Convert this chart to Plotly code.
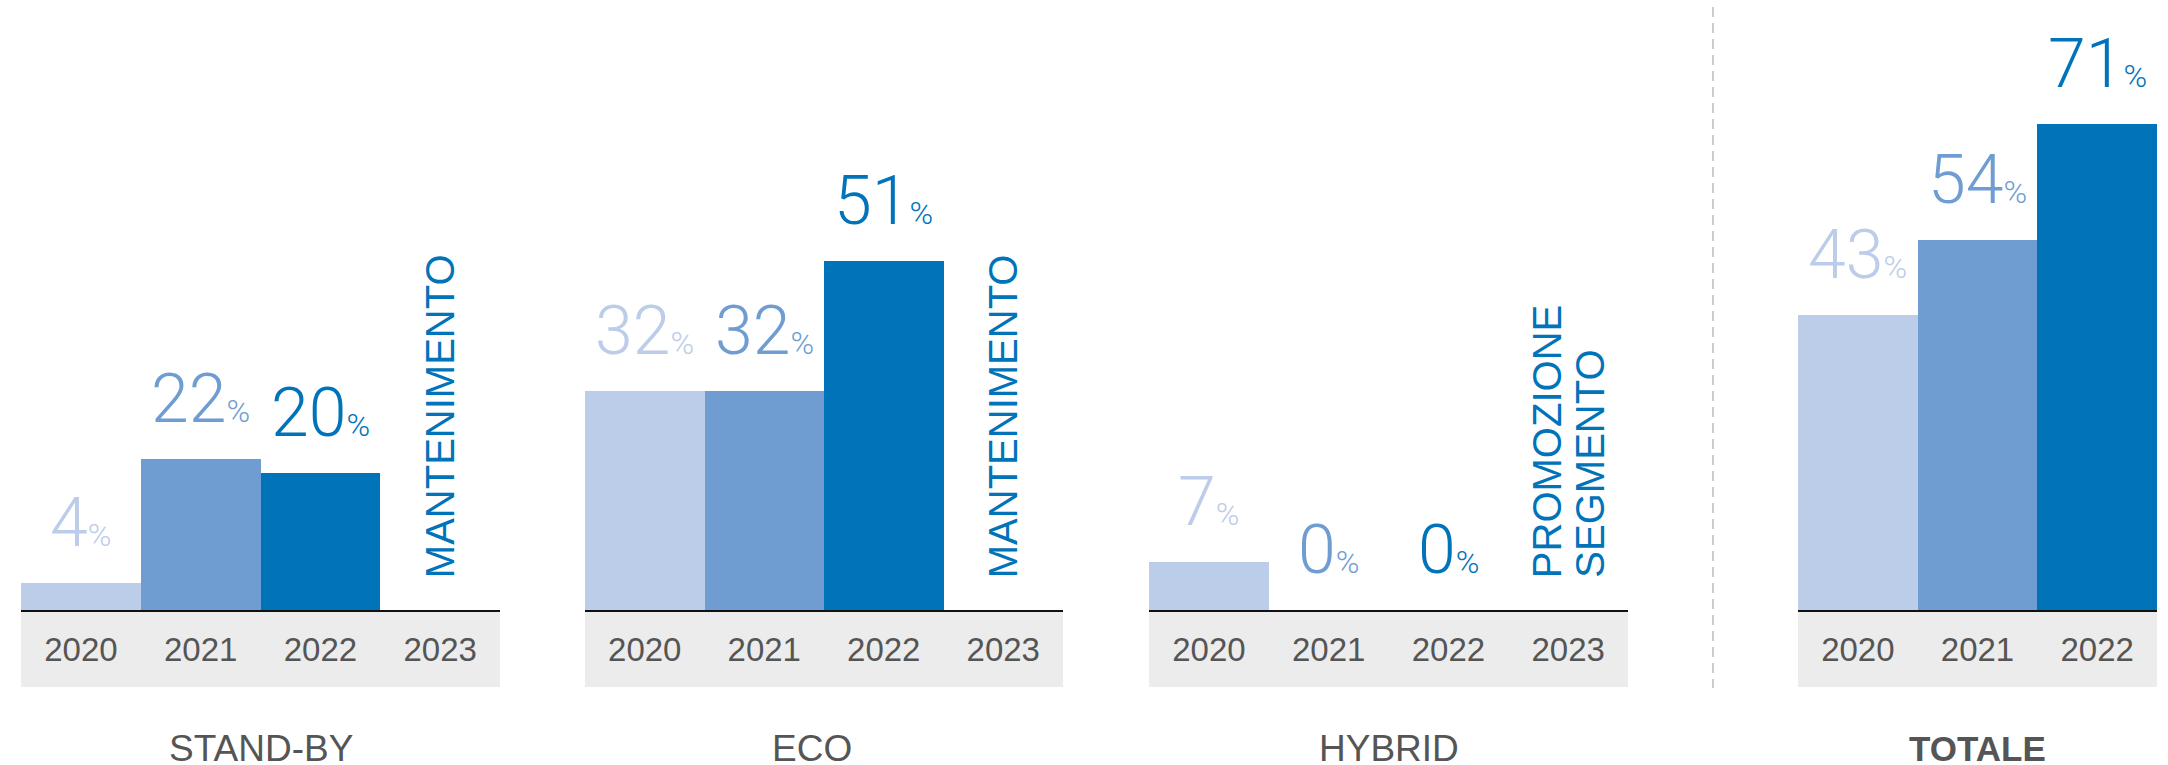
import plotly.graph_objects as go

# ---- data -------------------------------------------------------------
years = ["2020", "2021", "2022", "2023"]
years_total = ["2020", "2021", "2022"]

standby = [4, 22, 20, None]
eco = [32, 32, 51, None]
hybrid = [7, 0, 0, None]
totale = [43, 54, 71]

segments = ["STAND-BY", "ECO", "HYBRID", "TOTALE"]
notes_2023 = [["MANTENIMENTO"], ["MANTENIMENTO"], ["PROMOZIONE", "SEGMENTO"], []]

year_colors = ["#BCCDE9", "#6F9DD2", "#0073B9"]
note_color = "#0073B9"

# ---- geometry ---------------------------------------------------------
W, H = 2168, 765
BASE = 610          # baseline in px from top
BAND_BOTTOM = 687   # bottom of grey year band
PX_PER_UNIT = 6.85
panels_px = [(21, 500), (585, 1063), (1149, 1628), (1798, 2157)]
name_shift = [0, -12, 0, 0]   # small horizontal nudges of the segment names

NUM_FONT = "Roboto, 'Liberation Sans', Arial, sans-serif"
TXT_FONT = "'Liberation Sans', Arial, sans-serif"

series = [(years, standby), (years, eco), (years, hybrid), (years_total, totale)]

fig = go.Figure()
layout = dict(
    width=W, height=H,
    margin=dict(l=0, r=0, t=0, b=0),
    paper_bgcolor="white", plot_bgcolor="white",
    showlegend=False, bargap=0,
    shapes=[], annotations=[],
)

ydom = [1 - BASE / H, 1]
yrange = [0, BASE / PX_PER_UNIT]

for i, ((cats, vals), (x0, x1)) in enumerate(zip(series, panels_px)):
    n = i + 1
    xa = "x" if n == 1 else f"x{n}"
    ya = "y" if n == 1 else f"y{n}"
    xkey = "xaxis" if n == 1 else f"xaxis{n}"
    ykey = "yaxis" if n == 1 else f"yaxis{n}"

    fig.add_trace(go.Bar(
        x=cats, y=vals, xaxis=xa, yaxis=ya,
        marker=dict(color=(year_colors + ["white"])[:len(cats)],
                    line=dict(width=0)),
        hoverinfo="skip",
    ))

    layout[xkey] = dict(
        domain=[x0 / W, x1 / W], anchor=ya, type="category",
        categoryorder="array", categoryarray=cats,
        range=[-0.5, len(cats) - 0.5], autorange=False,
        showline=True, linecolor="#111111", linewidth=2,
        showgrid=False, zeroline=False, ticks="",
        ticklabelstandoff=9,
        tickfont=dict(family=TXT_FONT, size=33, color="#555555"),
        fixedrange=True,
    )
    layout[ykey] = dict(
        domain=ydom, range=yrange, autorange=False, anchor=xa, visible=False,
        showgrid=False, zeroline=False, fixedrange=True,
    )

    # grey band behind the year labels
    layout["shapes"].append(dict(
        type="rect", xref=f"{xa} domain", yref="paper",
        x0=0, x1=1, y0=1 - BAND_BOTTOM / H, y1=1 - BASE / H,
        fillcolor="#ECECEC", line=dict(width=0), layer="below",
    ))

    # value labels (x given as category index)
    for j, v in enumerate(vals):
        if v is None:
            continue
        layout["annotations"].append(dict(
            xref=xa, yref=ya, x=j, y=v, xanchor="center", yanchor="bottom",
            yshift=18, showarrow=False,
            text=f"{v}<span style='font-size:32px'>%</span>",
            font=dict(family=NUM_FONT, size=68, color=year_colors[j], weight=300),
        ))

    # vertical notes in the 2023 slot
    notes = notes_2023[i]
    for k, note in enumerate(notes):
        offset = (k - (len(notes) - 1) / 2) * 43
        layout["annotations"].append(dict(
            xref=xa, yref="paper", x=cats.index("2023"), y=1 - 580 / H,
            xanchor="center", yanchor="bottom", xshift=offset,
            textangle=-90, showarrow=False, text=note,
            font=dict(family=TXT_FONT, size=40, color=note_color),
        ))

    # segment name under each panel
    layout["annotations"].append(dict(
        xref=f"{xa} domain", yref="paper", x=0.5, y=1 - 748 / H,
        xanchor="center", yanchor="middle", xshift=name_shift[i],
        showarrow=False,
        text=f"<b>{segments[i]}</b>" if segments[i] == "TOTALE" else segments[i],
        font=dict(family=TXT_FONT, size=37 if segments[i] != "TOTALE" else 35,
                  color="#555555"),
    ))

# dashed separator before the total
layout["shapes"].append(dict(
    type="line", xref="paper", yref="paper",
    x0=1713 / W, x1=1713 / W, y0=1 - 7 / H, y1=1 - 688 / H,
    line=dict(color="#CCCCCC", width=2, dash="10px,6px"),
))

fig.update_layout(**layout)
fig.write_html("out.html")
